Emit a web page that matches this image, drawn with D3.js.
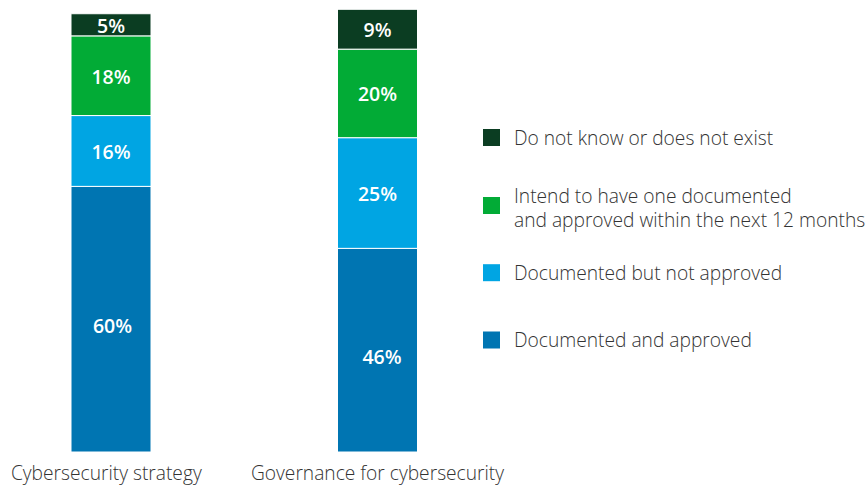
<!DOCTYPE html>
<html><head><meta charset="utf-8">
<script src="https://cdn.jsdelivr.net/npm/d3@7"></script>
<style>body{margin:0;background:#fff}svg{display:block}text{font-family:"Open Sans",sans-serif}</style>
</head><body><svg id="c" width="867" height="489"></svg>
<script>
const categories = ["Cybersecurity strategy", "Governance for cybersecurity"];
const seriesKeys = ["Documented and approved", "Documented but not approved", "Intend to have one documented and approved within the next 12 months", "Do not know or does not exist"];
const approved = [60, 46];
const notApproved = [16, 25];
const intend = [18, 20];
const dontKnow = [5, 9];
const legendLines = [
  ["Do not know or does not exist"],
  ["Intend to have one documented", "and approved within the next 12 months"],
  ["Documented but not approved"],
  ["Documented and approved"]
];
const colors = ["#0075b2", "#00a5e3", "#02ab36", "#0b3d22"];

const rows = categories.map((c, i) => ({cat: c, k0: approved[i], k1: notApproved[i], k2: intend[i], k3: dontKnow[i]}));
const stack = d3.stack().keys(["k0", "k1", "k2", "k3"]);
const series = stack(rows);

const svg = d3.select("#c");
const x = d3.scalePoint().domain(categories).range([111, 377.5]);
const y = d3.scaleLinear().domain([0, 100]).range([452, 9.3]);
const bw = 80;

const g = svg.append("g");
series.forEach((s, si) => {
  g.selectAll(null).data(s).enter().append("rect")
    .attr("x", d => x(d.data.cat) - bw / 2)
    .attr("width", bw)
    .attr("y", d => y(d[1]))
    .attr("height", d => y(d[0]) - y(d[1]))
    .attr("fill", colors[si])
    .attr("stroke", "#fff").attr("stroke-width", 1);
  g.selectAll(null).data(s).enter().append("text")
    .attr("x", (d, i) => x(d.data.cat) + (si === 0 ? (i === 0 ? 1.5 : 4.5) : 0))
    .attr("y", d => (y(d[0]) + y(d[1])) / 2 + (si === 0 ? 6.5 : 0.5))
    .attr("text-anchor", "middle")
    .attr("dominant-baseline", "central")
    .attr("fill", "#fff")
    .attr("font-size", 19.5)
    .attr("font-weight", 600)
    .text(d => (d[1] - d[0]) + "%");
});

// category labels
svg.selectAll(".cat").data(categories).enter().append("text")
  .attr("x", (d, i) => x(d) + (i === 0 ? -4.7 : 0))
  .attr("y", 480)
  .attr("text-anchor", "middle")
  .attr("fill", "#333")
  .attr("font-size", 19.2)
  .attr("font-weight", 300)
  .text(d => d);

// legend
const legY = [137.5, 205.5, 272.7, 340];
const lg = svg.append("g");
legendLines.forEach((lines, i) => {
  const cy = legY[i];
  lg.append("rect").attr("x", 483).attr("y", cy - 8.5).attr("width", 17).attr("height", 17)
    .attr("fill", colors[3 - i]);
  const n = lines.length;
  const base = n === 1 ? cy + 7 : cy - 2.2;
  const t = lg.append("text").attr("x", 514).attr("y", base)
    .attr("fill", "#333").attr("font-size", 19.2).attr("font-weight", 300);
  lines.forEach((line, j) => {
    t.append("tspan").attr("x", 514).attr("y", base + j * 23.4).text(line);
  });
});
</script></body></html>
